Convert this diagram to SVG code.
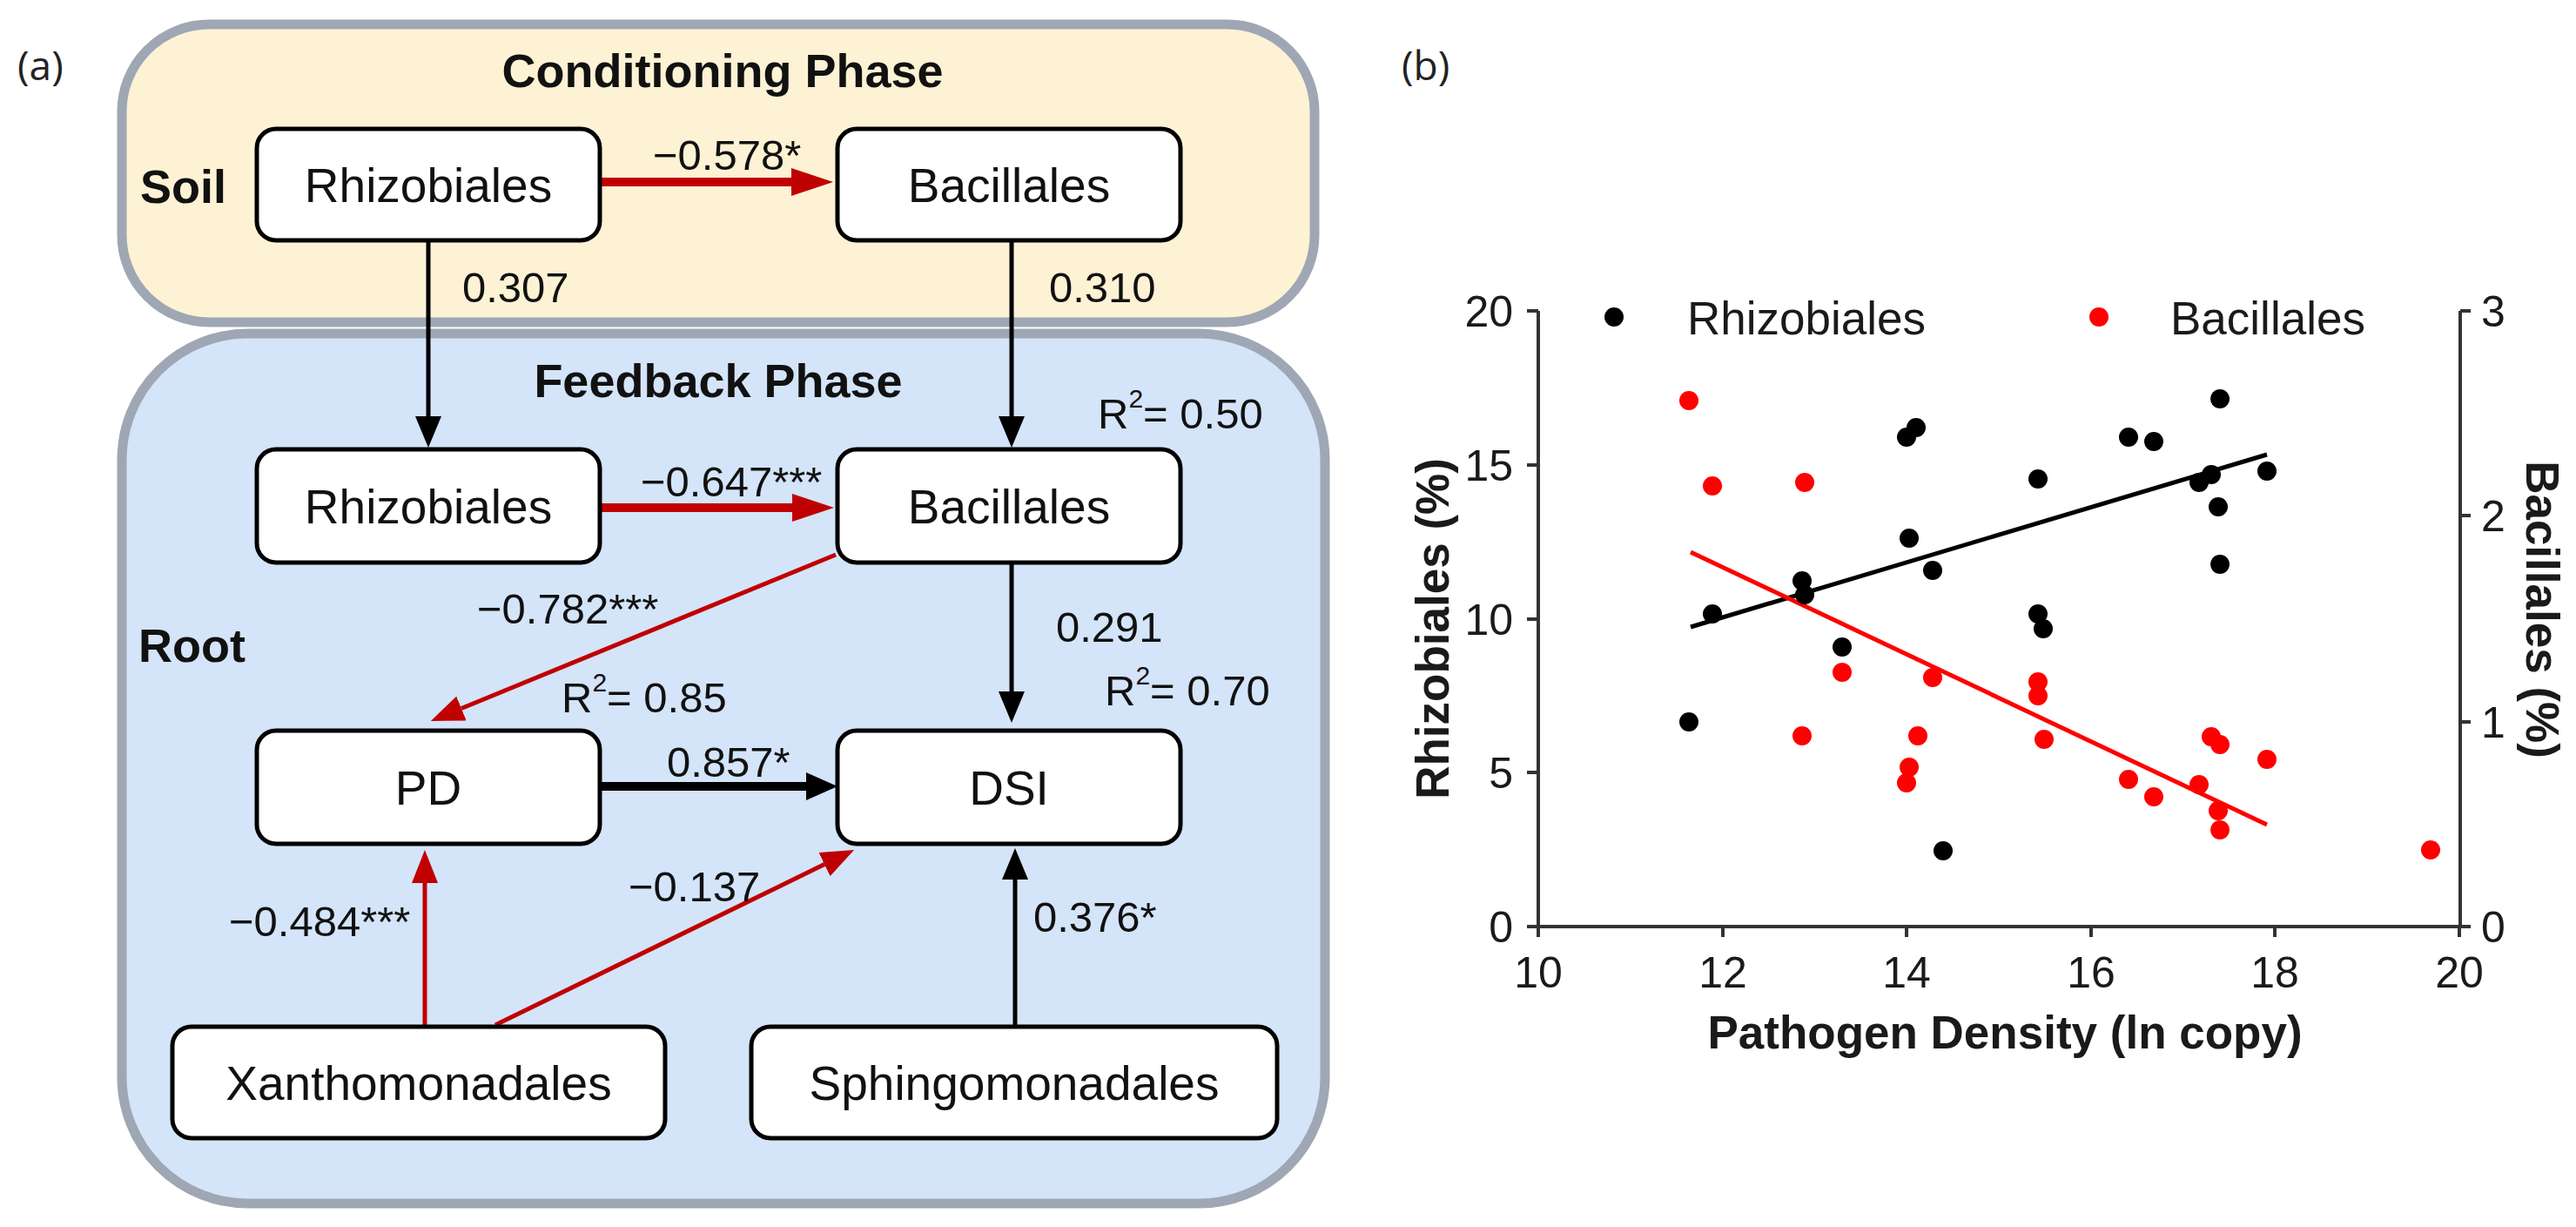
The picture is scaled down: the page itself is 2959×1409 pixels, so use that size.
<svg xmlns="http://www.w3.org/2000/svg" width="2959" height="1409" viewBox="0 0 2959 1409">
<defs>
<style>
.panel{font-family:"Open Sans","Liberation Sans",sans-serif;font-size:46px;fill:#222}
.phase{stroke:#9ea7b3;stroke-width:11}
.node rect{fill:#fff;stroke:#000;stroke-width:5}
.node text{font-family:"Liberation Sans",Arial,sans-serif;font-size:55px;text-anchor:middle;fill:#111}
.hdr{font-family:"Liberation Sans",Arial,sans-serif;font-weight:bold;font-size:54px;fill:#111}
.lbl{font-family:"Liberation Sans",Arial,sans-serif;font-size:49px;fill:#111}
.rt{stroke:#c00000;stroke-width:10;fill:none}
.rn{stroke:#c00000;stroke-width:5;fill:none}
.bt{stroke:#000;stroke-width:10;fill:none}
.bn{stroke:#000;stroke-width:5;fill:none}
.ax{stroke:#333;stroke-width:4;fill:none}
.tk{font-family:"Liberation Sans",Arial,sans-serif;font-size:50px;fill:#1a1a1a}
.leg{font-family:"Liberation Sans",Arial,sans-serif;font-size:53px;fill:#1a1a1a}
.axt{font-family:"Liberation Sans",Arial,sans-serif;font-weight:bold;font-size:53px;fill:#1a1a1a}
.bk{fill:#000}
.rd{fill:#ff0000}
</style>
<marker id="hRT" markerUnits="userSpaceOnUse" markerWidth="48" markerHeight="32" refX="0" refY="16" orient="auto"><path d="M0,0 L48,16 L0,32 z" fill="#c00000"/></marker>
<marker id="hRN" markerUnits="userSpaceOnUse" markerWidth="38" markerHeight="30" refX="0" refY="15" orient="auto"><path d="M0,0 L38,15 L0,30 z" fill="#c00000"/></marker>
<marker id="hBN" markerUnits="userSpaceOnUse" markerWidth="36" markerHeight="30" refX="0" refY="15" orient="auto"><path d="M0,0 L36,15 L0,30 z" fill="#000"/></marker>
<marker id="hBT" markerUnits="userSpaceOnUse" markerWidth="36" markerHeight="32" refX="0" refY="16" orient="auto"><path d="M0,0 L36,16 L0,32 z" fill="#000"/></marker>
</defs>
<rect width="2959" height="1409" fill="#fff"/>

<text class="panel" x="20" y="92">(a)</text>
<text class="panel" x="1610" y="92">(b)</text>

<g id="feedback-phase">
<rect class="phase" x="140" y="383" width="1382" height="999" rx="145" fill="#d4e4f9"/>
<text class="hdr" x="825" y="456" text-anchor="middle">Feedback Phase</text>
<text class="hdr" x="159" y="760">Root</text>
</g>
<g id="conditioning-phase">
<rect class="phase" x="140" y="28" width="1370" height="342" rx="100" fill="#fef2d5"/>
<text class="hdr" x="830" y="100" text-anchor="middle">Conditioning Phase</text>
<text class="hdr" x="161" y="233">Soil</text>
</g>

<g id="connectors">
<line class="rt" x1="691" y1="209" x2="909" y2="209" marker-end="url(#hRT)"/>
<line class="bn" x1="492" y1="278" x2="492" y2="478" marker-end="url(#hBN)"/>
<line class="bn" x1="1162" y1="276" x2="1162" y2="478" marker-end="url(#hBN)"/>
<line class="rt" x1="691" y1="583" x2="910" y2="583" marker-end="url(#hRT)"/>
<line class="rn" x1="960" y1="637" x2="530" y2="813.5" marker-end="url(#hRN)"/>
<line class="bn" x1="1162" y1="647" x2="1162" y2="794" marker-end="url(#hBN)"/>
<line class="bt" x1="691" y1="903" x2="926" y2="903" marker-end="url(#hBT)"/>
<line class="rn" x1="488" y1="1177" x2="488" y2="1014" marker-end="url(#hRN)"/>
<line class="rn" x1="569" y1="1177" x2="947" y2="992.6" marker-end="url(#hRN)"/>
<line class="bn" x1="1166" y1="1177" x2="1166" y2="1010" marker-end="url(#hBN)"/>
<text class="lbl" x="750" y="195">−0.578*</text>
<text class="lbl" x="531" y="347">0.307</text>
<text class="lbl" x="1205" y="347">0.310</text>
<text class="lbl" x="736" y="570">−0.647***</text>
<text class="lbl" x="548" y="716">−0.782***</text>
<text class="lbl" x="1213" y="737">0.291</text>
<text class="lbl" x="766" y="892">0.857*</text>
<text class="lbl" x="263" y="1075">−0.484***</text>
<text class="lbl" x="722" y="1035">−0.137</text>
<text class="lbl" x="1187" y="1070">0.376*</text>
<text class="lbl" x="1261" y="492">R<tspan font-size="30" dy="-24">2</tspan><tspan dy="24">= 0.50</tspan></text>
<text class="lbl" x="645" y="818">R<tspan font-size="30" dy="-24">2</tspan><tspan dy="24">= 0.85</tspan></text>
<text class="lbl" x="1269" y="810">R<tspan font-size="30" dy="-24">2</tspan><tspan dy="24">= 0.70</tspan></text>
</g>

<g id="node-soil-rhizobiales" class="node"><rect x="295" y="148" width="394" height="128" rx="22"/><text x="492" y="232">Rhizobiales</text></g>
<g id="node-soil-bacillales" class="node"><rect x="962" y="148" width="394" height="128" rx="22"/><text x="1159" y="232">Bacillales</text></g>
<g id="node-root-rhizobiales" class="node"><rect x="295" y="516" width="394" height="130" rx="22"/><text x="492" y="601">Rhizobiales</text></g>
<g id="node-root-bacillales" class="node"><rect x="962" y="516" width="394" height="130" rx="22"/><text x="1159" y="601">Bacillales</text></g>
<g id="node-pd" class="node"><rect x="295" y="839" width="394" height="130" rx="22"/><text x="492" y="924">PD</text></g>
<g id="node-dsi" class="node"><rect x="962" y="839" width="394" height="130" rx="22"/><text x="1159" y="924">DSI</text></g>
<g id="node-xanthomonadales" class="node"><rect x="198" y="1179" width="566" height="128" rx="22"/><text x="481" y="1263">Xanthomonadales</text></g>
<g id="node-sphingomonadales" class="node"><rect x="863" y="1179" width="604" height="128" rx="22"/><text x="1165" y="1263">Sphingomonadales</text></g>

<g id="plot-b">
<path class="ax" d="M1767,357 V1064 H2826 V357"/>
<path class="ax" d="M1754,357 H1767 M1754,534 H1767 M1754,711 H1767 M1754,887 H1767 M1754,1064 H1767"/>
<path class="ax" d="M2826,357 H2838 M2826,592 H2838 M2826,829 H2838 M2826,1064 H2838"/>
<path class="ax" d="M1767,1064 V1076 M1979,1064 V1076 M2190,1064 V1076 M2402,1064 V1076 M2613,1064 V1076 M2825,1064 V1076"/>
<g class="tk" text-anchor="end">
<text x="1738" y="375">20</text><text x="1738" y="552">15</text><text x="1738" y="729">10</text><text x="1738" y="905">5</text><text x="1738" y="1082">0</text>
</g>
<g class="tk">
<text x="2850" y="375">3</text><text x="2850" y="610">2</text><text x="2850" y="847">1</text><text x="2850" y="1082">0</text>
</g>
<g class="tk" text-anchor="middle">
<text x="1767" y="1134">10</text><text x="1979" y="1134">12</text><text x="2190" y="1134">14</text><text x="2402" y="1134">16</text><text x="2613" y="1134">18</text><text x="2825" y="1134">20</text>
</g>
<text class="axt" x="2303" y="1204" text-anchor="middle">Pathogen Density (ln copy)</text>
<text class="axt" transform="translate(1664,722) rotate(-90)" text-anchor="middle">Rhizobiales (%)</text>
<text class="axt" transform="translate(2902,700) rotate(90)" text-anchor="middle">Bacillales (%)</text>
<circle class="bk" cx="1854" cy="364" r="11"/>
<text class="leg" x="1938" y="384">Rhizobiales</text>
<circle class="rd" cx="2411" cy="364" r="11"/>
<text class="leg" x="2493" y="384">Bacillales</text>
<line x1="1942" y1="720" x2="2604" y2="522" stroke="#000" stroke-width="5"/>
<line x1="1942" y1="634" x2="2604" y2="947" stroke="#ff0000" stroke-width="5"/>
<g class="bk">
<circle cx="2550" cy="458" r="11"/><circle cx="2201" cy="491" r="11"/><circle cx="2190" cy="502" r="11"/><circle cx="2445" cy="502" r="11"/><circle cx="2474" cy="507" r="11"/><circle cx="2341" cy="550" r="11"/><circle cx="2604" cy="541" r="11"/><circle cx="2540" cy="545" r="11"/><circle cx="2526" cy="554" r="11"/><circle cx="2548" cy="582" r="11"/><circle cx="2193" cy="618" r="11"/><circle cx="2550" cy="648" r="11"/><circle cx="2220" cy="655" r="11"/><circle cx="2070" cy="667" r="11"/><circle cx="2073" cy="683" r="11"/><circle cx="1967" cy="705" r="11"/><circle cx="2341" cy="705" r="11"/><circle cx="2347" cy="722" r="11"/><circle cx="2116" cy="743" r="11"/><circle cx="1940" cy="829" r="11"/><circle cx="2232" cy="977" r="11"/>
</g>
<g class="rd">
<circle cx="1940" cy="460" r="11"/><circle cx="1967" cy="558" r="11"/><circle cx="2073" cy="554" r="11"/><circle cx="2116" cy="772" r="11"/><circle cx="2220" cy="778" r="11"/><circle cx="2341" cy="783" r="11"/><circle cx="2341" cy="799" r="11"/><circle cx="2070" cy="845" r="11"/><circle cx="2203" cy="845" r="11"/><circle cx="2348" cy="849" r="11"/><circle cx="2540" cy="846" r="11"/><circle cx="2550" cy="855" r="11"/><circle cx="2604" cy="872" r="11"/><circle cx="2193" cy="881" r="11"/><circle cx="2190" cy="899" r="11"/><circle cx="2445" cy="895" r="11"/><circle cx="2474" cy="915" r="11"/><circle cx="2526" cy="901" r="11"/><circle cx="2548" cy="931" r="11"/><circle cx="2550" cy="953" r="11"/><circle cx="2792" cy="976" r="11"/>
</g>
</g>
</svg>
